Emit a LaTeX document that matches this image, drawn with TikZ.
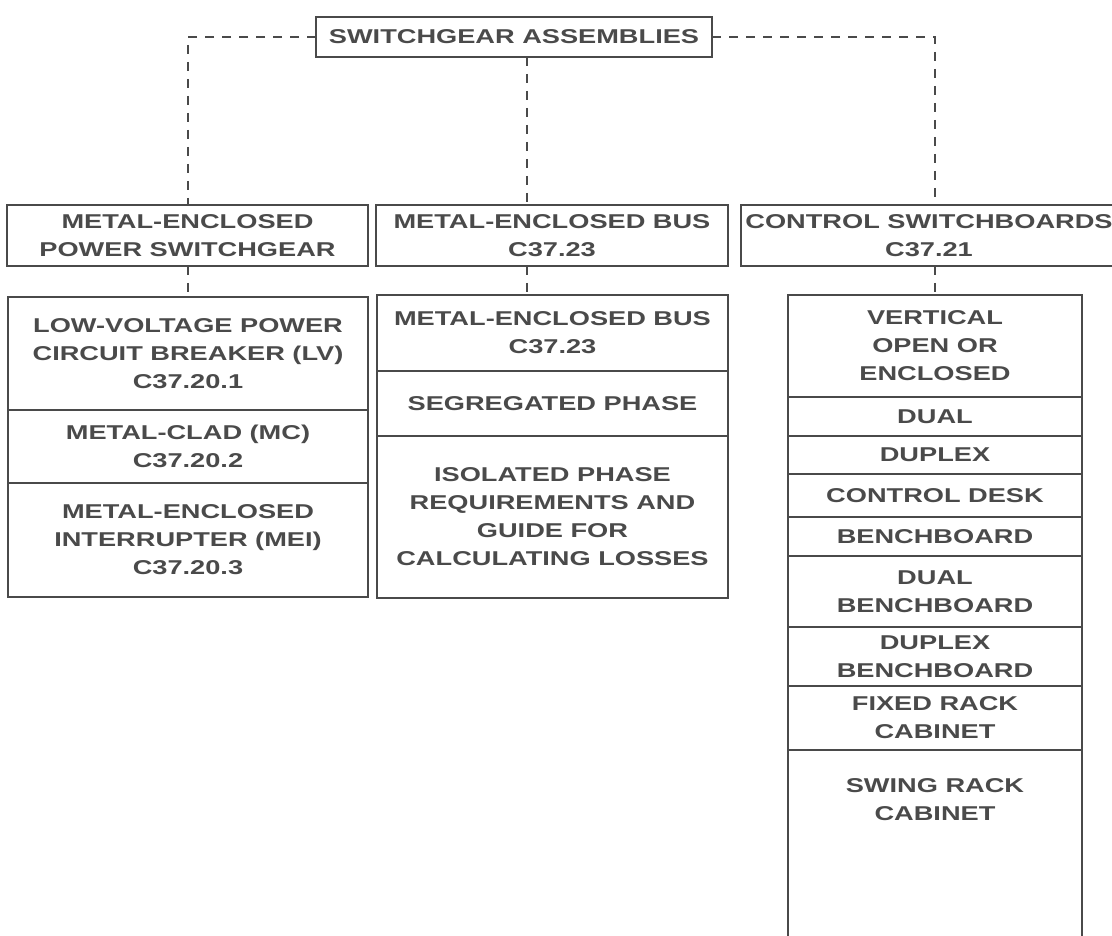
\documentclass[tikz,border=0pt]{standalone}
\usepackage{fontspec}
\newfontfamily\chartfont[FakeStretch=1.36]{Liberation Sans}
\usetikzlibrary{positioning}
\definecolor{ink}{HTML}{4A4A4A}

\begin{document}
\begin{tikzpicture}[x=1pt,y=-1pt,
    box/.style n args={2}{draw=ink,line width=1.6pt,inner sep=0pt,outer sep=0pt,minimum width=#1pt,minimum height=#2pt,align=center,text=ink,font=\chartfont\bfseries\fontsize{20}{28}\selectfont},
    cell/.style n args={2}{box={#1}{#2},draw=none},
    link/.style={draw=ink,line width=1.3pt,dash pattern=on 9pt off 8pt}
]
\useasboundingbox (0,0) rectangle (1112,936);

\node[box={396}{40}] (assem) at (514,37) {SWITCHGEAR ASSEMBLIES};
\node[box={361}{61}] (powsw) at (187.5,235.5) {METAL-ENCLOSED\\POWER SWITCHGEAR};
\node[box={352}{61}] (busgrp) at (552,235.5) {METAL-ENCLOSED BUS\\C37.23};
\node[box={376}{61}] (ctrlsw) at (929,235.5) {CONTROL SWITCHBOARDS\\C37.21};

% left column
\node[box={360}{113}] (lvcb) at (188,353.5) {LOW-VOLTAGE POWER\\CIRCUIT BREAKER (LV)\\C37.20.1};
\node[box={360}{73},below=0pt of lvcb] (mclad) {METAL-CLAD (MC)\\C37.20.2};
\node[box={360}{114},below=0pt of mclad] (mei) {METAL-ENCLOSED\\INTERRUPTER (MEI)\\C37.20.3};

% middle column
\node[box={351}{76}] (mebus) at (552.5,333) {METAL-ENCLOSED BUS\\C37.23};
\node[box={351}{65},below=0pt of mebus] (segph) {SEGREGATED PHASE};
\node[box={351}{162},below=0pt of segph] (isoph) {ISOLATED PHASE\\REQUIREMENTS AND\\GUIDE FOR\\CALCULATING LOSSES};

% right column
\node[box={294}{102}] (vert) at (935,346) {VERTICAL\\OPEN OR\\ENCLOSED};
\node[box={294}{39},below=0pt of vert] (dual) {DUAL};
\node[box={294}{38},below=0pt of dual] (duplex) {DUPLEX};
\node[box={294}{43},below=0pt of duplex] (desk) {CONTROL DESK};
\node[box={294}{39},below=0pt of desk] (bench) {BENCHBOARD};
\node[box={294}{71},below=0pt of bench] (dbench) {DUAL\\BENCHBOARD};
\node[box={294}{59},below=0pt of dbench] (dxbench) {DUPLEX\\BENCHBOARD};
\node[box={294}{64},below=0pt of dxbench] (fixed) {FIXED RACK\\CABINET};
\node[cell={294}{100},below=0pt of fixed] (swing) {SWING RACK\\CABINET};
\draw[draw=ink,line width=1.6pt] (swing.south west) ++(0,100) -- (swing.north west)
    (swing.north east) -- (swing.south east) -- ++(0,100);

\coordinate (lft) at (188,0);
\coordinate (rgt) at (935,0);
\coordinate (mid) at (527,0);

\draw[link] (assem.west) -- (assem.west -| lft) -- (lft |- powsw.north);
\draw[link] (assem.east) -- (assem.east -| rgt) -- (rgt |- ctrlsw.north);
\draw[link] (assem.south -| mid) -- (busgrp.north -| mid);
\draw[link] (powsw.south -| lft) -- (lvcb.north -| lft);
\draw[link] (busgrp.south -| mid) -- (mebus.north -| mid);
\draw[link] (ctrlsw.south -| rgt) -- (vert.north -| rgt);
\end{tikzpicture}
\end{document}
